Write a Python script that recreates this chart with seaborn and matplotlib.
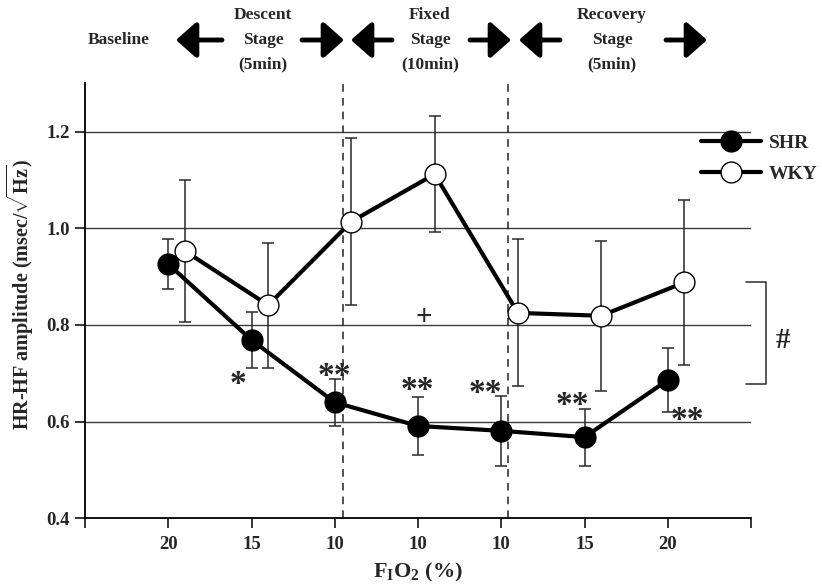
"""HR-HF amplitude of SHR and WKY rats across FiO2 stages."""

from __future__ import annotations

import matplotlib

matplotlib.use('Agg')

import matplotlib.pyplot as plt
import pandas as pd
import seaborn as sns

# x categories (FiO2 %) in order of the protocol
fio2_labels = ['20', '15', '10', '10', '10', '15', '20']

# mean +/- SE
shr_mean = [0.926, 0.769, 0.640, 0.591, 0.581, 0.568, 0.686]
shr_err = [0.052, 0.057, 0.049, 0.060, 0.073, 0.059, 0.067]
wky_mean = [0.953, 0.841, 1.014, 1.112, 0.825, 0.819, 0.888]
wky_err = [0.146, 0.129, 0.172, 0.120, 0.152, 0.155, 0.171]

# significance marks (text, x, y centre)
sig_marks = [
    ('*', 1.84, 0.693),
    ('**', 2.99, 0.709),
    ('**', 3.99, 0.680),
    ('**', 4.81, 0.674),
    ('**', 5.86, 0.649),
    ('**', 7.24, 0.618),
]

stage_texts = [
    ('Baseline', 119, [40]),
    ('Descent\nStage\n(5min)', 263, [15, 40, 64]),
    ('Fixed\nStage\n(10min)', 430, [15, 40, 64]),
    ('Recovery\nStage\n(5min)', 612, [15, 40, 64]),
]
# arrows (tip_x, tail_x) in figure pixels
stage_arrows = [(176, 222), (344, 302), (351, 392), (511, 470), (519, 560), (707, 666)]

W, H = 822, 588


def main() -> None:
    sns.set_theme(style='ticks')
    plt.rcParams['font.family'] = ['Liberation Serif', 'DejaVu Serif']
    plt.rcParams['font.weight'] = 'bold'
    plt.rcParams['axes.labelweight'] = 'bold'
    plt.rcParams['mathtext.fontset'] = 'custom'
    plt.rcParams['mathtext.rm'] = 'Liberation Serif:bold'
    plt.rcParams['mathtext.bf'] = 'Liberation Serif:bold'
    plt.rcParams['mathtext.default'] = 'bf'

    pos = list(range(1, len(fio2_labels) + 1))
    shift = 0.2
    df = pd.DataFrame({
        'pos': pos + [p + shift for p in pos],
        'value': shr_mean + wky_mean,
        'err': shr_err + wky_err,
        'group': ['SHR'] * len(pos) + ['WKY'] * len(pos),
    })

    fig = plt.figure(figsize=(W / 100, H / 100), dpi=100)
    ax = fig.add_axes([85 / W, 1 - 518.3 / H, 666 / W, 435 / H])

    for y in [0.6, 0.8, 1.0, 1.2]:
        ax.axhline(y, color='#3a3a3a', lw=1.0, zorder=1)
    for x in [3.1, 5.08]:
        ax.axvline(x, color='#222222', lw=1.1, ls=(0, (5, 4)), zorder=1)

    face = {'SHR': 'black', 'WKY': 'white'}
    for name, sub in df.groupby('group'):
        ax.errorbar(sub['pos'], sub['value'], yerr=sub['err'], fmt='none',
                    ecolor='#2a2a2a', elinewidth=1.1, capsize=4, capthick=1.1,
                    zorder=2)
        sns.lineplot(data=sub, x='pos', y='value', ax=ax, color='black',
                     lw=3, marker='o', markersize=15, markerfacecolor=face[name],
                     markeredgecolor='black', markeredgewidth=1.0,
                     label=name, zorder=3 if name == 'SHR' else 4)

    for txt, x, y in sig_marks:
        ax.text(x, y - 0.033, txt, ha='center', va='baseline', fontsize=24,
                fontweight='bold')
    ax.text(4.07, 0.800, '+', ha='center', va='baseline', fontsize=21,
            fontweight='bold')

    # bracket and # for the group difference
    ax.plot([7.94, 8.175, 8.175, 7.94], [0.888, 0.888, 0.677, 0.677],
            color='#2a2a2a', lw=1.1, clip_on=False)
    ax.text(8.38, 0.752, '#', ha='center', va='baseline', fontsize=21,
            fontweight='bold', clip_on=False)

    ax.set_xlim(0, 8)
    ax.set_ylim(0.4, 1.3)
    ax.set_xticks(range(0, 9))
    ax.set_xticklabels([''] + fio2_labels + [''])
    ax.set_yticks([0.4, 0.6, 0.8, 1.0, 1.2])
    ax.set_yticklabels(['0.4', '0.6', '0.8', '1.0', '1.2'])
    ax.tick_params(axis='both', length=7, width=1.1, color='black',
                   labelsize=13.5, pad=4)
    ax.tick_params(axis='x', pad=6)
    sns.despine(ax=ax)
    for s in ['left', 'bottom']:
        ax.spines[s].set_linewidth(1.3)
        ax.spines[s].set_color('black')

    ax.set_xlabel(r'F$_{\mathbf{I}}$O$_{\mathbf{2}}$ (%)', fontsize=16)
    ax.xaxis.set_label_coords(0.5, -0.098)
    ax.set_ylabel(r'HR-HF amplitude (msec/$\sqrt{\mathbf{Hz}}$)', fontsize=14.5)
    ax.yaxis.set_label_coords(-0.074, 0.515)

    ax.legend(loc='upper left', bbox_to_anchor=(701 / W, 1 - 134 / H),
              bbox_transform=fig.transFigure, frameon=False, fontsize=14,
              handlelength=3.1, handletextpad=0.4, labelspacing=0.7,
              borderpad=0, borderaxespad=0)

    for txt, x, ys in stage_texts:
        for line, y in zip(txt.split('\n'), ys):
            fig.text(x / W, 1 - y / H, line, ha='center', va='center',
                     fontsize=12.5)
    for tip, tail in stage_arrows:
        ax.annotate('', xy=(tip, H - 40), xytext=(tail, H - 40),
                    xycoords='figure pixels', textcoords='figure pixels',
                    arrowprops=dict(arrowstyle='-|>,head_length=0.62,head_width=0.55',
                                    lw=3.5, color='black', mutation_scale=20,
                                    shrinkA=0, shrinkB=0))

    fig.savefig('out.png', dpi=100)
    plt.close(fig)


if __name__ == '__main__':
    main()
